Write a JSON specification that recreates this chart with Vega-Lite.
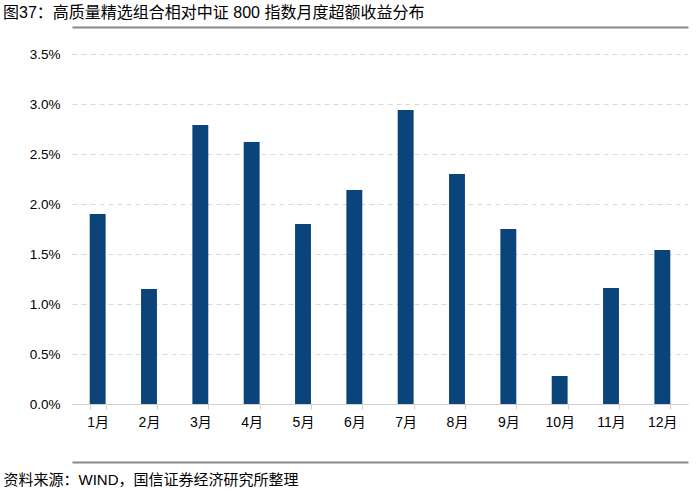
{
  "$schema": "https://vega.github.io/schema/vega-lite/v6.json",
  "autosize": "pad",
  "bounds": "flush",
  "spacing": 38,
  "padding": {"left": 3, "top": 5, "right": 12, "bottom": 5},
  "background": "white",
  "config": {
    "font": "Liberation Sans, Noto Sans CJK SC, sans-serif",
    "view": {"stroke": null}
  },
  "title": {
    "text": "图37：高质量精选组合相对中证 800 指数月度超额收益分布",
    "anchor": "start",
    "frame": "group",
    "dx": -69,
    "offset": 6,
    "fontSize": 16,
    "fontWeight": "normal",
    "color": "#000000",
    "font": "Liberation Sans, Noto Sans CJK SC, sans-serif"
  },
  "data": {
    "values": [
      {"month": "1月", "value": 0.0190},
      {"month": "2月", "value": 0.0115},
      {"month": "3月", "value": 0.0279},
      {"month": "4月", "value": 0.0262},
      {"month": "5月", "value": 0.0180},
      {"month": "6月", "value": 0.0214},
      {"month": "7月", "value": 0.0294},
      {"month": "8月", "value": 0.0230},
      {"month": "9月", "value": 0.0175},
      {"month": "10月", "value": 0.0028},
      {"month": "11月", "value": 0.0116},
      {"month": "12月", "value": 0.0154}
    ]
  },
  "vconcat": [
    {
      "width": 616,
      "height": 350,
      "layer": [
        {
          "mark": {"type": "bar", "color": "#0a447a"},
          "encoding": {
            "x": {
              "field": "month",
              "type": "nominal",
              "sort": null,
              "scale": {"paddingInner": 0.69, "paddingOuter": 0.345},
              "axis": {
                "orient": "bottom",
                "title": null,
                "labelAngle": 0,
                "labelFontSize": 14,
                "labelColor": "#000000",
                "labelPadding": 6,
                "domainColor": "#d0d0d0",
                "tickColor": "#d0d0d0",
                "tickBand": "extent",
                "tickSize": 5,
                "grid": false
              }
            },
            "y": {
              "field": "value",
              "type": "quantitative",
              "scale": {"domain": [0, 0.035], "nice": false},
              "axis": {
                "title": null,
                "format": ".1%",
                "values": [0, 0.005, 0.01, 0.015, 0.02, 0.025, 0.03, 0.035],
                "labelFontSize": 13.5,
                "labelColor": "#000000",
                "labelPadding": 12,
                "domain": false,
                "ticks": false,
                "grid": true,
                "gridColor": "#d9d9d9",
                "gridDash": [5, 4],
                "gridWidth": 1
              }
            }
          }
        },
        {
          "mark": {"type": "bar", "opacity": 0},
          "encoding": {
            "x": {
              "field": "month",
              "type": "nominal",
              "sort": null,
              "axis": {
                "orient": "top",
                "offset": 27,
                "title": null,
                "labels": false,
                "ticks": false,
                "domain": true,
                "domainColor": "#888888",
                "domainWidth": 2
              }
            },
            "y": {"field": "value", "type": "quantitative", "axis": null}
          }
        }
      ],
      "resolve": {"axis": {"x": "independent", "y": "independent"}}
    },
    {
      "width": 616,
      "height": 0,
      "mark": {"type": "bar", "opacity": 0},
      "encoding": {
        "x": {
          "field": "month",
          "type": "nominal",
          "sort": null,
          "axis": {
            "orient": "bottom",
            "labels": false,
            "ticks": false,
            "domainColor": "#888888",
            "domainWidth": 2,
            "title": "资料来源：WIND，国信证券经济研究所整理",
            "titleFontSize": 15,
            "titleFontWeight": "normal",
            "titleColor": "#000000",
            "titleAnchor": "start",
            "titleAlign": "left",
            "titleX": -69,
            "titleY": 10,
            "titleBaseline": "top"
          }
        }
      }
    }
  ]
}
